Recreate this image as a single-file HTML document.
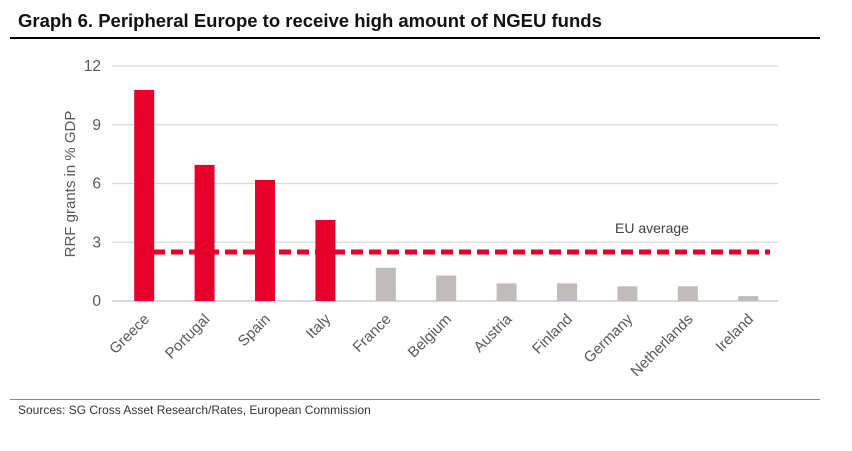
<!DOCTYPE html>
<html><head><meta charset="utf-8"><style>
body{margin:0;background:#fff;width:852px;height:451px;overflow:hidden;font-family:"Liberation Sans",sans-serif}
#title{position:absolute;left:18px;top:10px;font-size:18.5px;font-weight:bold;color:#111;letter-spacing:0px}
#rule{position:absolute;left:10px;top:37px;width:810px;height:2px;background:#000}
#foot{position:absolute;left:10px;top:399px;width:810px;height:1px;background:#888}
#src{position:absolute;left:18px;top:403px;font-size:12px;color:#333}
</style></head><body>
<div id="title">Graph 6. Peripheral Europe to receive high amount of NGEU funds</div>
<div id="rule"></div>
<svg id="chart" width="852" height="451" style="position:absolute;left:0;top:0"></svg>
<div id="foot"></div>
<div id="src">Sources: SG Cross Asset Research/Rates, European Commission</div>
<script>
const categories=["Greece","Portugal","Spain","Italy","France","Belgium","Austria","Finland","Germany","Netherlands","Ireland"];
const values=[10.78,6.95,6.18,4.14,1.7,1.3,0.9,0.9,0.75,0.75,0.25];
const highlighted=[true,true,true,true,false,false,false,false,false,false,false];
const euAverage=[2.5];
const yTicks=[0,3,6,9,12];
const NS="http://www.w3.org/2000/svg";
const svg=document.getElementById('chart');
const x0=114,bw=60.4,y0=301,yMax=12,yTop=66;
const y=v=>y0-(v/yMax)*(y0-yTop);
const xc=i=>x0+bw*(i+0.5);
function mk(t,a){const e=document.createElementNS(NS,t);for(const k in a)e.setAttribute(k,a[k]);svg.appendChild(e);return e;}
yTicks.forEach(t=>{
 const l=mk('line',{x1:112,x2:778,y1:y(t),y2:y(t),stroke:'#d9d9d9','stroke-width':t===0?2:1.3});
 
 
 const tx=mk('text',{x:101,y:y(t)+5,'text-anchor':'end','font-size':15.5,fill:'#595959','font-family':'Liberation Sans, sans-serif'});
 tx.textContent=t;
 
 
});
const yl=mk('text',{transform:'translate(75,184) rotate(-90)','text-anchor':'middle','font-size':15,fill:'#595959','font-family':'Liberation Sans, sans-serif'});
yl.textContent='RRF grants in % GDP';


categories.forEach((c,i)=>{
 const r=mk('rect',{x:xc(i)-10,y:y(values[i]),width:20,height:y0-y(values[i]),fill:highlighted[i]?'#e4002b':'#c0bcbc'});
 
 
 const t=mk('text',{transform:`translate(${xc(i)+6},${320}) rotate(-45)`,'text-anchor':'end','font-size':15,fill:'#595959','font-family':'Liberation Sans, sans-serif'});
 t.textContent=c;
 
 
});
const d=mk('line',{x1:135,x2:770,y1:y(euAverage[0]),y2:y(euAverage[0]),stroke:'#e4002b','stroke-width':5,'stroke-dasharray':'12 6'});


const el=mk('text',{x:615,y:233,'font-size':14,fill:'#404040','font-family':'Liberation Sans, sans-serif'});
el.textContent='EU average';


</script>
</body></html>
